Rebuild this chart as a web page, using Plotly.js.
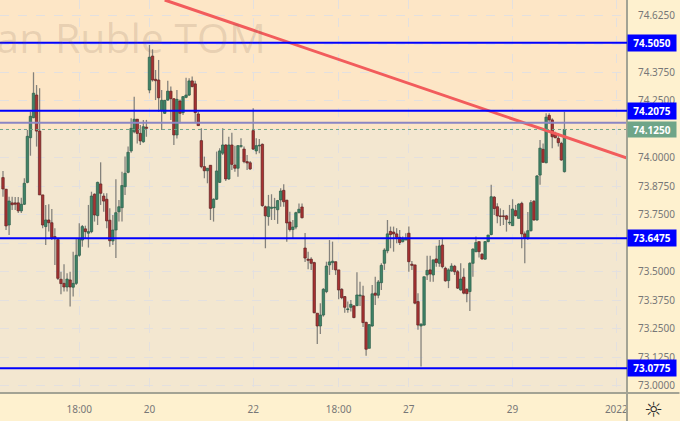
<!DOCTYPE html>
<html>
<head>
<meta charset="utf-8">
<script src="https://cdn.plot.ly/plotly-3.0.1.min.js"></script>
<style>html,body{margin:0;padding:0;background:#fef1cf;overflow:hidden}#chart{width:680px;height:421px}</style>
</head>
<body>
<div id="chart"></div>
<script>
const open = [
73.914,73.863,73.706,73.803,73.803,73.803,73.768,73.797,73.893,74.089,
74.177,74.276,74.118,73.838,73.699,73.728,73.716,73.655,73.642,73.468,
73.450,73.434,73.465,73.433,73.450,73.573,73.640,73.689,73.670,73.677,
73.841,73.747,73.886,73.833,73.819,73.727,73.636,73.684,73.764,73.782,
73.874,73.937,74.031,74.115,74.170,74.108,74.071,74.135,74.298,74.447,
74.345,74.342,74.207,74.196,74.254,74.293,74.260,74.101,74.250,74.199,
74.266,74.276,74.338,74.325,74.193,74.076,73.962,73.944,73.968,73.782,
73.819,73.893,74.021,74.057,73.908,74.057,73.969,73.955,74.051,74.039,
73.984,73.979,74.120,74.031,74.053,74.060,73.786,73.743,73.779,73.781,
73.773,73.816,73.858,73.815,73.719,73.686,73.697,73.760,73.785,73.605,
73.556,73.556,73.541,73.319,73.263,73.311,73.414,73.531,73.541,73.545,
73.509,73.424,73.392,73.335,73.345,73.351,73.352,73.395,73.395,73.279,
73.165,73.263,73.407,73.398,73.453,73.538,73.593,73.678,73.675,73.667,
73.652,73.633,73.640,73.670,73.534,73.531,73.370,73.263,73.267,73.487,
73.509,73.487,73.557,73.538,73.618,73.516,73.462,73.504,73.525,73.501,
73.421,73.477,73.424,73.414,73.538,73.589,73.633,73.578,73.556,73.633,
73.664,73.828,73.786,73.746,73.746,73.746,73.715,73.703,73.769,73.735,
73.801,73.667,73.650,73.681,73.810,73.728,73.925,74.038,73.979,74.187,
74.167,74.108,74.086,74.064,73.940];
const high = [
73.943,73.864,73.830,73.830,73.829,73.829,73.825,73.911,74.123,74.203,
74.376,74.320,74.306,73.838,73.794,73.797,73.776,73.692,73.645,73.501,
73.534,73.494,73.501,73.589,73.648,73.714,73.706,73.703,73.794,73.852,
73.845,73.896,73.981,73.845,73.845,73.779,73.750,73.907,73.816,73.940,
74.006,74.050,74.174,74.269,74.170,74.145,74.167,74.167,74.496,74.477,
74.386,74.430,74.298,74.254,74.339,74.313,74.262,74.298,74.257,74.272,
74.352,74.350,74.357,74.339,74.203,74.130,74.006,73.956,73.969,73.823,
74.028,74.043,74.130,74.060,74.093,74.111,74.054,74.057,74.086,74.050,
74.013,73.987,74.218,74.086,74.083,74.064,73.791,73.838,73.841,73.825,
73.816,73.867,73.885,73.816,73.764,73.728,73.764,73.800,73.800,73.671,
73.589,73.564,73.545,73.319,73.363,73.429,73.545,73.640,73.633,73.545,
73.509,73.429,73.395,73.370,73.377,73.355,73.499,73.457,73.439,73.282,
73.272,73.443,73.479,73.465,73.538,73.604,73.728,73.699,73.699,73.692,
73.684,73.655,73.670,73.699,73.548,73.531,73.407,73.275,73.479,73.571,
73.571,73.553,73.615,73.640,73.645,73.523,73.516,73.538,73.531,73.509,
73.538,73.516,73.429,73.543,73.604,73.655,73.633,73.582,73.636,73.662,
73.882,73.833,73.801,73.779,73.772,73.750,73.794,73.819,73.794,73.801,
73.808,73.677,73.763,73.816,73.816,73.925,74.079,74.064,74.196,74.196,
74.174,74.115,74.108,74.071,74.203];
const low = [
73.830,73.684,73.662,73.772,73.772,73.759,73.759,73.794,73.889,74.010,
74.174,74.050,73.838,73.692,73.618,73.677,73.640,73.531,73.465,73.402,
73.414,73.414,73.348,73.392,73.443,73.567,73.611,73.648,73.607,73.670,
73.721,73.706,73.794,73.764,73.692,73.611,73.618,73.561,73.721,73.721,
73.838,73.933,74.023,74.108,74.064,74.057,74.067,74.093,74.284,74.335,
74.254,74.203,74.123,74.193,74.251,74.167,74.057,74.085,74.152,74.189,
74.262,74.272,74.310,74.152,74.140,73.955,73.911,73.889,73.728,73.721,
73.816,73.890,74.013,73.899,73.904,73.947,73.940,73.918,74.045,73.977,
73.947,73.947,74.035,74.016,74.021,73.786,73.604,73.703,73.728,73.728,
73.711,73.786,73.786,73.633,73.677,73.648,73.687,73.757,73.735,73.544,
73.512,73.509,73.319,73.184,73.228,73.304,73.407,73.487,73.509,73.487,
73.380,73.380,73.321,73.321,73.326,73.297,73.351,73.351,73.258,73.132,
73.165,73.260,73.355,73.385,73.421,73.509,73.582,73.604,73.589,73.626,
73.618,73.629,73.640,73.501,73.509,73.358,73.246,73.085,73.264,73.465,
73.457,73.457,73.523,73.523,73.516,73.457,73.429,73.501,73.487,73.425,
73.418,73.402,73.367,73.329,73.479,73.586,73.563,73.553,73.553,73.630,
73.661,73.750,73.714,73.702,73.706,73.677,73.706,73.702,73.743,73.735,
73.604,73.538,73.640,73.677,73.725,73.725,73.882,73.979,73.977,74.149,
74.043,74.086,74.050,73.988,73.936];
const close = [
73.864,73.702,73.811,73.795,73.797,73.768,73.797,73.889,74.095,74.183,
74.284,74.118,73.838,73.706,73.728,73.716,73.650,73.646,73.472,73.449,
73.434,73.469,73.434,73.450,73.573,73.645,73.699,73.677,73.677,73.833,
73.750,73.893,73.845,73.811,73.724,73.637,73.684,73.760,73.786,73.879,
73.933,74.025,74.130,74.170,74.108,74.075,74.137,74.130,74.442,74.342,
74.339,74.264,74.253,74.253,74.293,74.260,74.101,74.257,74.196,74.269,
74.276,74.338,74.313,74.199,74.142,73.962,73.944,73.955,73.779,73.819,
73.943,74.031,74.057,73.908,74.057,73.972,73.955,74.054,74.054,73.984,
73.978,73.952,74.039,74.054,74.056,73.791,73.746,73.786,73.784,73.784,
73.813,73.855,73.808,73.715,73.686,73.697,73.760,73.775,73.738,73.561,
73.551,73.538,73.321,73.263,73.311,73.424,73.526,73.544,73.547,73.509,
73.421,73.387,73.345,73.338,73.358,73.300,73.399,73.399,73.278,73.161,
73.269,73.404,73.398,73.456,73.529,73.596,73.667,73.664,73.667,73.652,
73.629,73.643,73.648,73.545,73.529,73.363,73.267,73.271,73.479,73.507,
73.491,73.553,73.541,73.614,73.523,73.461,73.509,73.526,73.501,73.429,
73.469,73.407,73.405,73.538,73.600,73.629,73.589,73.557,73.633,73.662,
73.830,73.778,73.746,73.743,73.743,73.731,73.718,73.776,73.747,73.798,
73.667,73.650,73.681,73.804,73.728,73.921,74.043,73.981,74.179,74.167,
74.093,74.089,74.067,73.991,74.125];

const levels = [74.505, 74.2075, 73.6475, 73.0775];
const levelLabels = ['74.5050', '74.2075', '73.6475', '73.0775'];
const lastPrice = 74.125;
const lastLabel = '74.1250';
const prevLine = 74.155;
const trendX = [53, 204.5];
const trendY = [74.693, 74.0];
const xTickVals = [25, 48, 82, 110, 133, 167, 201];
const xTickText = ['18:00', '20', '22', '18:00', '27', '29', '2022'];
const yTickVals = [73, 73.125, 73.25, 73.375, 73.5, 73.625, 73.75, 73.875, 74, 74.125, 74.25, 74.375, 74.5, 74.625];
const yTickText = ['73.0000','73.1250','73.2500','73.3750','73.5000','','73.7500','73.8750','74.0000','','74.2500','74.3750','','74.6250'];

const idx = open.map((_, i) => i);
const up = open.map((o, i) => close[i] >= o);
const fontName = '"Noto Sans", "Liberation Sans", sans-serif';

const wicks = {
  type: 'bar', x: idx, base: low, y: high.map((h, i) => h - low[i]),
  width: 0.42,
  marker: {color: '#84827c', line: {width: 0}},
  hoverinfo: 'skip', showlegend: false
};
const bodies = {
  type: 'bar', x: idx,
  base: open.map((o, i) => Math.min(o, close[i])),
  y: open.map((o, i) => Math.abs(o - close[i])),
  width: 0.8,
  marker: {
    color: up.map(u => u ? '#3f8367' : '#a83232'),
    line: {color: up.map(u => u ? '#2a5c48' : '#5e2222'), width: 0.7}
  },
  hoverinfo: 'skip', showlegend: false
};
const trend = {
  type: 'scatter', mode: 'lines', x: trendX, y: trendY,
  line: {color: '#f25c5c', width: 3}, hoverinfo: 'skip', showlegend: false
};

const shapes = [
  {type: 'rect', xref: 'paper', x0: 0, x1: 1, yref: 'y', y0: lastPrice, y1: 74.693, fillcolor: '#fde6c6', line: {width: 0}, layer: 'below'},
  {type: 'line', xref: 'paper', x0: 0, x1: 1, yref: 'y', y0: prevLine, y1: prevLine, line: {color: '#8a86c4', width: 2}},
  {type: 'line', xref: 'paper', x0: 0, x1: 1, yref: 'y', y0: lastPrice, y1: lastPrice, line: {color: '#6fa588', width: 1, dash: 'dot'}},
  {type: 'line', xref: 'paper', x0: 0, x1: 680/627.5, yref: 'paper', y0: 0, y1: 0, line: {color: '#a3a394', width: 2}},
  {type: 'line', xref: 'paper', x0: 1, x1: 1, yref: 'paper', y0: -28/393, y1: 1, line: {color: '#a3a394', width: 2}}
];
levels.forEach(v => shapes.push({type: 'line', xref: 'paper', x0: 0, x1: 1, yref: 'y', y0: v, y1: v, line: {color: '#0000ff', width: 2}}));

const annotations = [{
  xref: 'paper', yref: 'y', x: 268/627.5, y: 74.53, xanchor: 'right', yanchor: 'middle',
  text: 'ian Ruble TOM', showarrow: false,
  font: {family: '"Open Sans", sans-serif', size: 41, color: 'rgba(120,95,70,0.17)'}
}];
levels.forEach((v, i) => annotations.push({
  xref: 'paper', yref: 'y', x: 1, y: v, xanchor: 'left', yanchor: 'middle', xshift: 0,
  text: '<b>' + levelLabels[i] + '</b>', showarrow: false, bgcolor: '#0000ff', width: 46, height: 14, borderpad: 1,
  font: {family: fontName, size: 10, color: '#ffffff'}
}));
annotations.push({
  xref: 'paper', yref: 'y', x: 1, y: lastPrice, xanchor: 'left', yanchor: 'middle',
  text: '<b>' + lastLabel + '</b>', showarrow: false, bgcolor: '#6fa588', width: 46, height: 13, borderpad: 1,
  font: {family: fontName, size: 10, color: '#ffffff'}
});
annotations.push({
  xref: 'paper', yref: 'paper', x: 654/627.5, y: -17/393, xanchor: 'center', yanchor: 'middle',
  text: '\u263C', showarrow: false, font: {family: '"DejaVu Sans", sans-serif', size: 21, color: '#2a2a2a'}
});

const layout = {
  width: 680, height: 421,
  margin: {l: 0, r: 52.5, t: 0, b: 28, pad: 0},
  paper_bgcolor: '#fef1cf', plot_bgcolor: '#f3e7d0',
  barmode: 'overlay', showlegend: false, dragmode: false,
  xaxis: {
    type: 'linear', range: [-0.98, 204.5], tickmode: 'array', tickvals: xTickVals, ticktext: xTickText,
    showgrid: true, gridcolor: '#e3e0df', griddash: 'dash', gridwidth: 1, zeroline: false, showline: false,
    ticks: 'outside', ticklen: 7, tickcolor: 'rgba(0,0,0,0)',
    tickfont: {family: fontName, size: 10, color: '#777777'}
  },
  yaxis: {
    side: 'right', range: [72.969, 74.693], tickmode: 'array', tickvals: yTickVals, ticktext: yTickText,
    showgrid: true, gridcolor: '#e3e0df', griddash: 'dash', gridwidth: 1, zeroline: false, showline: false,
    ticks: 'outside', ticklen: 8, tickcolor: 'rgba(0,0,0,0)',
    tickfont: {family: fontName, size: 10, color: '#777777'}
  },
  shapes, annotations
};
Plotly.newPlot('chart', [wicks, bodies, trend], layout, {displayModeBar: false, staticPlot: true});
</script>
</body>
</html>
